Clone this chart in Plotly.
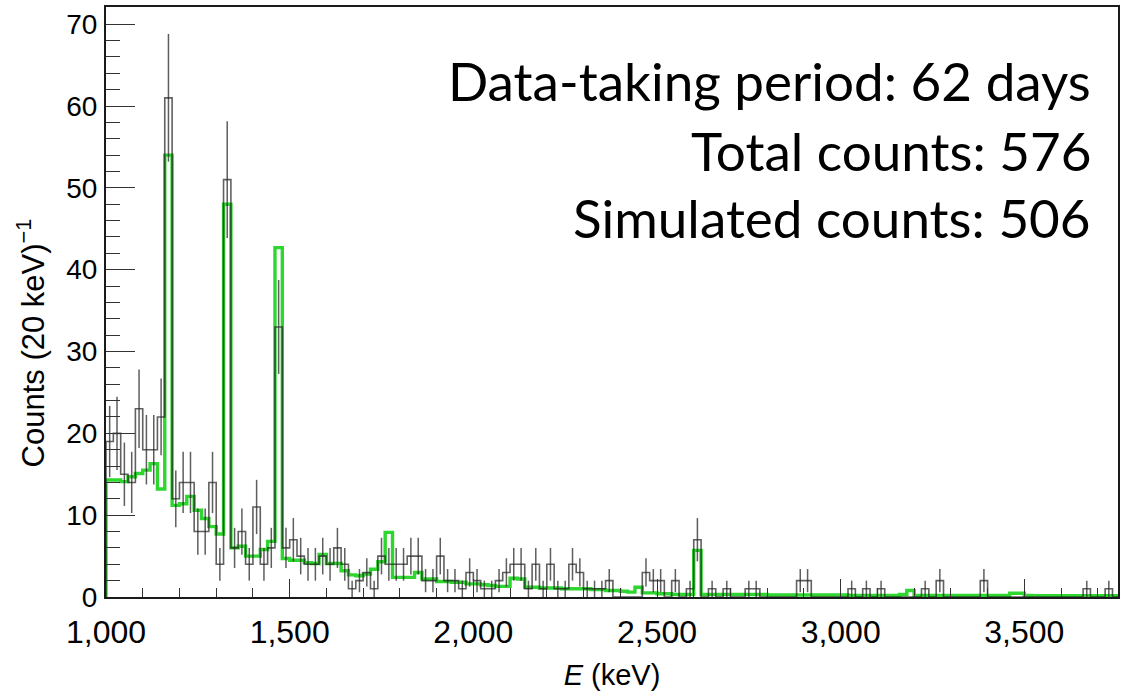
import numpy as np
import plotly.graph_objects as go

# Energy binning of the spectrum (keV)
e_start = 1000
bin_width = 20

# Measured counts per 20 keV bin, starting at 1,000 keV
data_counts = [
    19, 20, 15, 14, 23, 18, 18, 22, 61, 12,
    14, 14, 8, 8, 14, 4, 51, 6, 8, 4,
    11, 4, 6, 33, 6, 7, 5, 4, 4, 5,
    4, 6, 4, 1, 2, 3, 1, 5, 4, 4,
    4, 5, 5, 2, 2, 5, 2, 2, 1, 3,
    2, 1, 1, 2, 3, 4, 4, 1, 4, 1,
    4, 1, 1, 4, 3, 1, 1, 1, 2, 0,
    0, 0, 0, 3, 2, 2, 0, 2, 0, 1,
    7, 0, 1, 0, 1, 0, 0, 1, 1, 0,
    0, 0, 0, 0, 2, 2, 0, 0, 0, 0,
    0, 1, 0, 1, 0, 1, 0, 0, 0, 0,
    0, 1, 0, 2, 0, 0, 0, 0, 0, 2,
    0, 0, 0, 0, 0, 0, 0, 0, 0, 0,
    0, 0, 0, 1, 0, 0, 1, 0,
]

# Simulated background spectrum, same binning
sim_counts = [
    14.3, 14.3, 14.1, 14.7, 15.1, 15.5, 16.3, 13.2, 54.0, 11.2,
    11.4, 12.3, 10.6, 9.6, 8.6, 7.7, 48.0, 6.0, 6.2, 5.0,
    5.0, 5.8, 6.8, 42.7, 4.7, 4.5, 4.5, 4.2, 4.1, 5.2,
    4.1, 4.1, 3.2, 2.7, 2.6, 2.8, 3.4, 4.3, 7.9, 2.4,
    2.4, 2.4, 3.0, 2.2, 2.2, 1.9, 1.9, 1.8, 1.8, 1.6,
    1.6, 1.5, 1.4, 1.3, 1.3, 2.3, 2.2, 1.2, 1.2, 1.1,
    1.1, 1.1, 1.0, 1.0, 1.0, 1.0, 0.9, 0.9, 0.8, 0.8,
    0.7, 0.6, 1.2, 0.5, 0.5, 0.4, 0.4, 0.3, 0.3, 0.3,
    5.7, 0.3, 0.3, 0.3, 0.3, 0.3, 0.3, 0.3, 0.3, 0.3,
    0.25, 0.25, 0.25, 0.25, 0.25, 0.25, 0.25, 0.25, 0.25, 0.25,
    0.25, 0.2, 0.2, 0.2, 0.2, 0.2, 0.2, 0.2, 0.3, 0.8,
    0.2, 0.2, 0.2, 0.2, 0.2, 0.2, 0.2, 0.2, 0.2, 0.2,
    0.2, 0.2, 0.2, 0.45, 0.45, 0.2, 0.15, 0.15, 0.15, 0.15,
    0.15, 0.15, 0.15, 0.15, 0.15, 0.15, 0.15, 0.15,
]

x_tick_values = [1000, 1500, 2000, 2500, 3000, 3500]
info_lines = [
    "Data-taking period: 62 days",
    "Total counts: 576",
    "Simulated counts: 506",
]

n_bins = len(data_counts)
edges = e_start + bin_width * np.arange(n_bins + 1)
centers = edges[:-1] + bin_width / 2
data = np.array(data_counts, dtype=float)
sim = np.array(sim_counts, dtype=float)


def step_outline(values):
    """Histogram outline: rises from the axis, one flat step per bin."""
    xs = np.concatenate([[edges[0]], edges])
    ys = np.concatenate([[0.0], values, [values[-1]]])
    return xs, ys


fig = go.Figure()

sx, sy = step_outline(sim)
fig.add_trace(go.Scatter(
    x=sx, y=sy, mode="lines", line_shape="hv",
    line=dict(color="#2fd62f", width=3.4),
    hoverinfo="skip", showlegend=False,
))

dx, dy = step_outline(data)
fig.add_trace(go.Scatter(
    x=dx, y=dy, mode="lines", line_shape="hv",
    line=dict(color="rgba(30,30,30,0.7)", width=1.6),
    hoverinfo="skip", showlegend=False,
))

# Poisson uncertainties on the measured counts
fig.add_trace(go.Scatter(
    x=centers, y=data, mode="markers",
    marker=dict(size=0.1, color="rgba(0,0,0,0)"),
    error_y=dict(type="data", array=np.sqrt(data), visible=True,
                 width=0, thickness=1.5, color="rgba(40,40,40,0.75)"),
    hoverinfo="skip", showlegend=False,
))

axis_font = "Liberation Sans, Arial, Helvetica, sans-serif"
tick_col = "#333333"

fig.update_xaxes(
    range=[1000, 3755],
    tickvals=x_tick_values,
    tickformat=",d",
    ticks="inside", ticklen=18, tickwidth=1.4, tickcolor=tick_col,
    minor=dict(dtick=100, tick0=1000, ticks="inside", ticklen=9,
               tickwidth=1.2, tickcolor=tick_col),
    showline=True, linecolor="#1a1a1a", linewidth=2, mirror=True,
    showgrid=False, zeroline=False,
    tickfont=dict(family=axis_font, size=32, color="black"),
    ticklabelstandoff=6,
    title=dict(text="<i>E</i> (keV)", standoff=15,
               font=dict(family=axis_font, size=29, color="black")),
)

fig.update_yaxes(
    range=[0, 72.1],
    tick0=0, dtick=10,
    ticks="inside", ticklen=29, tickwidth=1.4, tickcolor=tick_col,
    minor=dict(dtick=2, tick0=0, ticks="inside", ticklen=14,
               tickwidth=1.2, tickcolor=tick_col),
    showline=True, linecolor="#1a1a1a", linewidth=2, mirror=True,
    showgrid=False, zeroline=False,
    tickfont=dict(family=axis_font, size=28, color="black"),
    ticklabelstandoff=1,
)

# Vertical axis label, placed beside the tick labels
fig.add_annotation(
    x=-0.074, y=0.43, xref="paper", yref="paper",
    xanchor="center", yanchor="middle", showarrow=False, textangle=-90,
    text="Counts (20 keV)<sup>−1</sup>",
    font=dict(family=axis_font, size=31, color="black"),
)

line_y = [0.876, 0.757, 0.643]
for text, yy in zip(info_lines, line_y):
    fig.add_annotation(
        x=0.975, y=yy, xref="paper", yref="paper",
        xanchor="right", yanchor="middle", showarrow=False,
        text=text, font=dict(family="Lato, Carlito, sans-serif", size=53, color="black"),
    )

fig.update_layout(
    width=1122, height=698,
    margin=dict(l=106, r=2, t=7, b=101),
    plot_bgcolor="white", paper_bgcolor="white",
)

fig.write_html("out.html")
